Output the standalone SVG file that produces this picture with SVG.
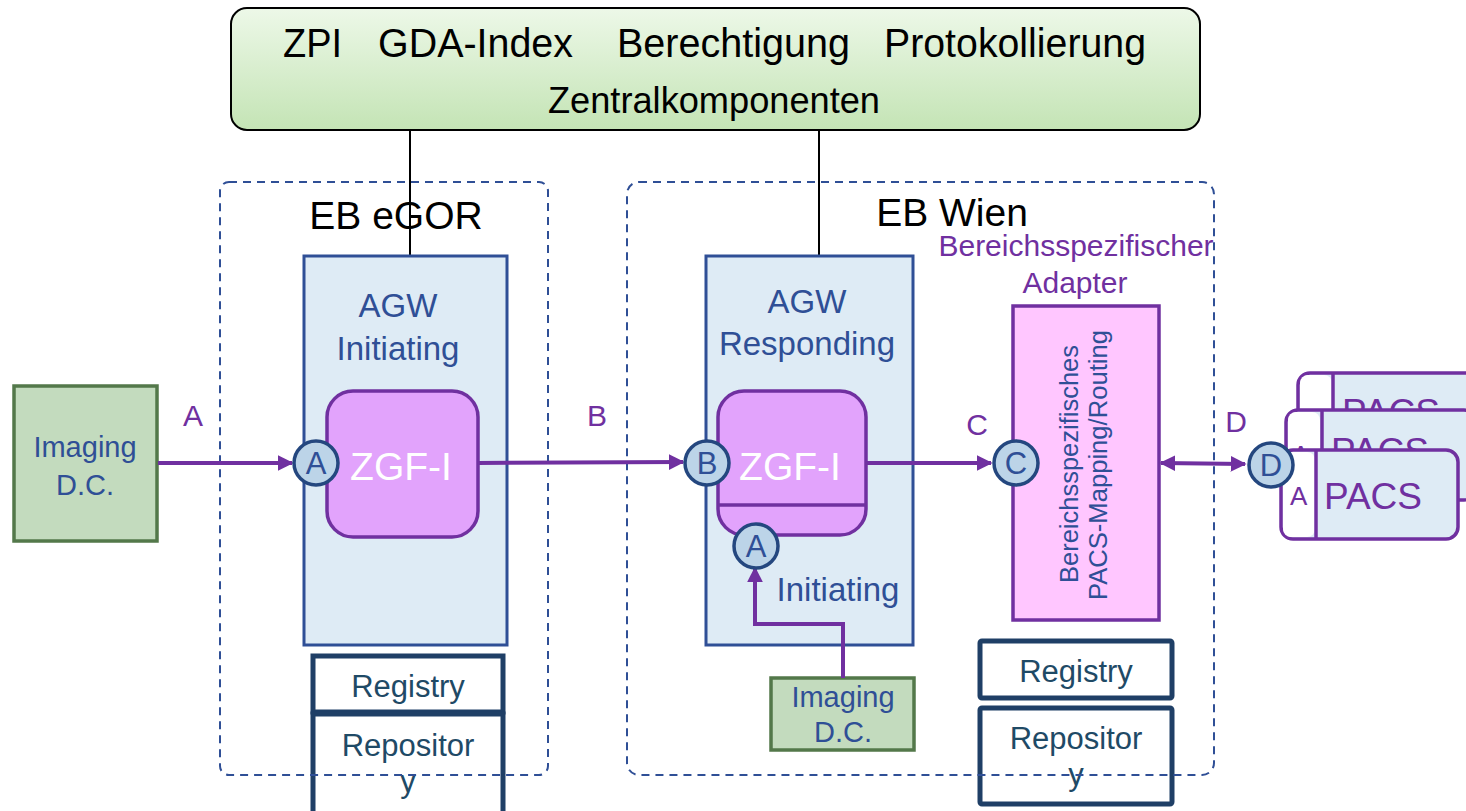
<svg xmlns="http://www.w3.org/2000/svg" width="1466" height="811" viewBox="0 0 1466 811">
  <defs>
    <linearGradient id="zkGrad" x1="0" y1="0" x2="0" y2="1">
      <stop offset="0" stop-color="#edf8e8"/>
      <stop offset="1" stop-color="#c4e4b5"/>
    </linearGradient>
    <marker id="arrowEnd" viewBox="0 0 10 10" refX="9" refY="5" markerWidth="4" markerHeight="4" orient="auto">
      <path d="M0,0 L10,5 L0,10 z" fill="#7030a0"/>
    </marker>
    <marker id="arrowStart" viewBox="0 0 10 10" refX="1" refY="5" markerWidth="4" markerHeight="4" orient="auto">
      <path d="M10,0 L0,5 L10,10 z" fill="#7030a0"/>
    </marker>
    <style>
      text { font-family: "Liberation Sans", Arial, sans-serif; }
      .narrow { font-family: "Liberation Sans Narrow", "Liberation Sans", Arial, sans-serif; }
      .agw { fill: #deebf5; stroke: #2f4f96; stroke-width: 3; }
      .agwText { fill: #2f4f96; font-size: 33px; text-anchor: middle; }
      .zgf { fill: #e2a3fc; stroke: #7030a0; stroke-width: 3.5; }
      .zgfText { fill: #ffffff; font-size: 39px; text-anchor: middle; }
      .port { fill: #bcd4e8; stroke: #24477f; stroke-width: 3.5; }
      .portText { fill: #2f4f96; font-size: 31px; text-anchor: middle; }
      .idc { fill: #c3dbbe; stroke: #53784a; stroke-width: 3.5; }
      .idcText { fill: #2f4f96; font-size: 29px; text-anchor: middle; }
      .lbl { fill: #7030a0; font-size: 30px; text-anchor: middle; }
      .store { fill: #ffffff; stroke: #1f3f66; stroke-width: 5; }
      .storeText { fill: #1f4a66; font-size: 31px; text-anchor: middle; }
      .eb { fill: none; stroke: #2f4f96; stroke-width: 2; stroke-dasharray: 8 6; }
      .ebText { fill: #000000; font-size: 39px; text-anchor: middle; }
      .flow { fill: none; stroke: #7030a0; stroke-width: 4; }
      .link { stroke: #000000; stroke-width: 2; }
      .pacs { fill: #deebf5; stroke: #7030a0; stroke-width: 3.5; }
      .pacsText { fill: #7030a0; font-size: 37px; }
      .pacsPort { fill: #7030a0; font-size: 26px; }
    </style>
  </defs>

  <!-- central components -->
  <g id="zentral">
    <rect x="231" y="8" width="969" height="122" rx="16" fill="url(#zkGrad)" stroke="#000" stroke-width="2"/>
    <g class="narrow" font-size="40" fill="#000">
      <text x="283" y="57" textLength="59" lengthAdjust="spacingAndGlyphs">ZPI</text>
      <text x="378" y="57" textLength="195" lengthAdjust="spacingAndGlyphs">GDA-Index</text>
      <text x="617" y="57" textLength="233" lengthAdjust="spacingAndGlyphs">Berechtigung</text>
      <text x="884" y="57" textLength="262" lengthAdjust="spacingAndGlyphs">Protokollierung</text>
      <text x="548" y="113" font-size="36" textLength="332" lengthAdjust="spacingAndGlyphs">Zentralkomponenten</text>
    </g>
  </g>

  <!-- registry / repository stores -->
  <g id="store-egor">
    <rect class="store" x="313" y="656" width="190" height="56"/>
    <text class="storeText" x="408" y="697">Registry</text>
    <rect class="store" x="313" y="714" width="190" height="100"/>
    <text class="storeText" x="408" y="756">Repositor</text>
    <text class="storeText" x="408" y="792">y</text>
  </g>
  <g id="store-wien">
    <rect class="store" x="980" y="641" width="192" height="57" rx="2"/>
    <text class="storeText" x="1076" y="682">Registry</text>
    <rect class="store" x="980" y="708" width="192" height="96" rx="2"/>
    <text class="storeText" x="1076" y="749">Repositor</text>
    <text class="storeText" x="1076" y="785">y</text>
  </g>

  <!-- domain boundaries -->
  <g id="eb-egor">
    <rect class="eb" x="220" y="182" width="328" height="593" rx="9"/>
    <text class="ebText" x="396" y="229">EB eGOR</text>
  </g>
  <g id="eb-wien">
    <rect class="eb" x="627" y="182" width="587" height="593" rx="12"/>
    <text class="ebText" x="952" y="226">EB Wien</text>
  </g>

  <!-- links to central components -->
  <g id="central-links">
    <line class="link" x1="410" y1="130" x2="410" y2="256"/>
    <line class="link" x1="819" y1="130" x2="819" y2="256"/>
  </g>

  <!-- gateway eGOR -->
  <g id="agw-initiating">
    <rect class="agw" x="304" y="256" width="203" height="389"/>
    <text class="agwText" x="398" y="317">AGW</text>
    <text class="agwText" x="398" y="360">Initiating</text>
    <rect class="zgf" x="327" y="391" width="151" height="146" rx="26"/>
    <text class="zgfText" x="401" y="480">ZGF-I</text>
  </g>

  <!-- gateway Wien -->
  <g id="agw-responding">
    <rect class="agw" x="706" y="256" width="207" height="389"/>
    <text class="agwText" x="807" y="313">AGW</text>
    <text class="agwText" x="807" y="355">Responding</text>
    <rect class="zgf" x="718" y="391" width="148" height="144" rx="26"/>
    <line x1="718" y1="505" x2="866" y2="505" stroke="#7030a0" stroke-width="3.5"/>
    <text class="zgfText" x="790" y="480">ZGF-I</text>
    <text class="agwText" x="838" y="601">Initiating</text>
  </g>

  <!-- imaging document consumers -->
  <g id="idc-egor">
    <rect class="idc" x="14" y="386" width="143" height="155"/>
    <text class="idcText" x="85" y="457">Imaging</text>
    <text class="idcText" x="85" y="495">D.C.</text>
  </g>
  <g id="idc-wien">
    <rect class="idc" x="771" y="678" width="143" height="72"/>
    <text class="idcText" x="843" y="707">Imaging</text>
    <text class="idcText" x="843" y="742">D.C.</text>
  </g>

  <!-- domain specific adapter -->
  <g id="adapter">
    <text class="lbl" x="1076" y="256" font-size="25.5">Bereichsspezifischer</text>
    <text class="lbl" x="1075" y="293" font-size="25.5">Adapter</text>
    <rect x="1013" y="306" width="146" height="314" fill="#ffc6ff" stroke="#7030a0" stroke-width="3.5"/>
    <text transform="translate(1078,464) rotate(-90)" fill="#2f4f96" font-size="25" text-anchor="middle" textLength="238" lengthAdjust="spacingAndGlyphs">Bereichsspezifisches</text>
    <text transform="translate(1107,465) rotate(-90)" fill="#2f4f96" font-size="25" text-anchor="middle" textLength="270" lengthAdjust="spacingAndGlyphs">PACS-Mapping/Routing</text>
  </g>

  <!-- PACS stack -->
  <g id="pacs">
    <rect class="pacs" x="1298" y="373" width="190" height="90" rx="12"/>
    <rect x="1300" y="375" width="32" height="86" rx="8" fill="#ffffff"/>
    <line x1="1333" y1="374" x2="1333" y2="462" stroke="#7030a0" stroke-width="3.5"/>
    <text class="pacsText" x="1342" y="425">PACS</text>
    <rect class="pacs" x="1286" y="410" width="190" height="90" rx="12"/>
    <rect x="1288" y="412" width="32" height="86" rx="8" fill="#ffffff"/>
    <line x1="1322" y1="411" x2="1322" y2="499" stroke="#7030a0" stroke-width="3.5"/>
    <text class="pacsPort" x="1292" y="464">A</text>
    <text class="pacsText" x="1331" y="464">PACS</text>
    <rect class="pacs" x="1281" y="450" width="177" height="89" rx="12"/>
    <rect x="1283" y="452" width="32" height="85" rx="8" fill="#ffffff"/>
    <line x1="1316" y1="451" x2="1316" y2="538" stroke="#7030a0" stroke-width="3.5"/>
    <text class="pacsPort" x="1290" y="505">A</text>
    <text class="pacsText" x="1324" y="509">PACS</text>
  </g>

  <!-- message flows -->
  <g id="connectors">
    <line class="flow" x1="158" y1="463" x2="292" y2="463" marker-end="url(#arrowEnd)"/>
    <line class="flow" x1="478" y1="463" x2="683" y2="462" marker-end="url(#arrowEnd)"/>
    <line class="flow" x1="866" y1="463" x2="991" y2="463" marker-end="url(#arrowEnd)"/>
    <line class="flow" x1="1161" y1="463" x2="1245" y2="464" marker-start="url(#arrowStart)" marker-end="url(#arrowEnd)"/>
    <polyline class="flow" points="843,678 843,624 755,624 755,568" marker-end="url(#arrowEnd)"/>
  </g>

  <!-- flow labels -->
  <g id="flow-labels">
    <text class="lbl" x="193" y="426">A</text>
    <text class="lbl" x="597" y="426">B</text>
    <text class="lbl" x="977" y="435">C</text>
    <text class="lbl" x="1236" y="432">D</text>
  </g>

  <!-- interface ports -->
  <g id="ports">
    <circle class="port" cx="316" cy="463" r="22"/>
    <text class="portText" x="316" y="474">A</text>
    <circle class="port" cx="707" cy="463" r="22"/>
    <text class="portText" x="707" y="474">B</text>
    <circle class="port" cx="756" cy="546" r="22"/>
    <text class="portText" x="756" y="557">A</text>
    <circle class="port" cx="1016" cy="463" r="22"/>
    <text class="portText" x="1016" y="474">C</text>
    <circle class="port" cx="1271" cy="465" r="22"/>
    <text class="portText" x="1271" y="476">D</text>
  </g>
</svg>
